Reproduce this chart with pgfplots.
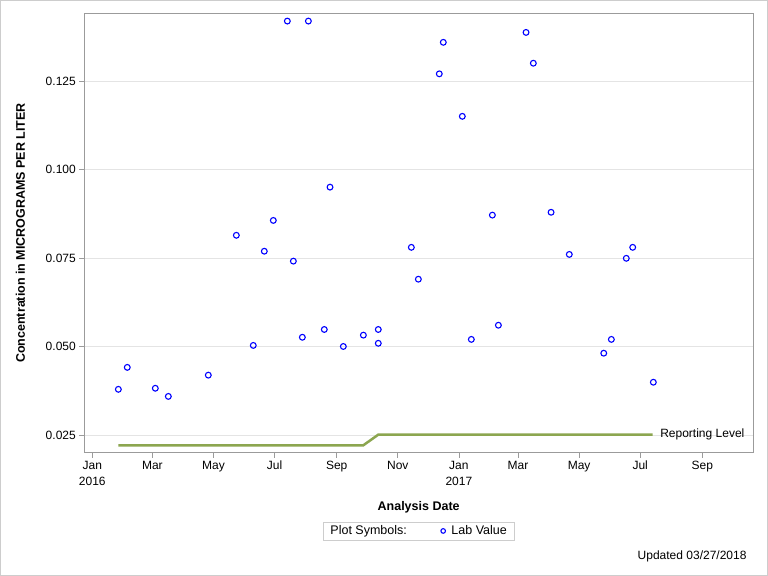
\documentclass[border=0pt]{standalone}
\usepackage{pgfplots}
\pgfplotsset{compat=1.18}
\usepackage{fontspec}
\setmainfont{Liberation Sans}

\definecolor{axisgray}{RGB}{155,155,155}
\definecolor{gridgray}{RGB}{228,228,228}
\definecolor{reflevel}{RGB}{140,166,80}
\definecolor{framegray}{RGB}{205,205,205}

% days counted from 1 Jan 2016
\pgfplotstableread{
day val
26.0 0.0380
34.9 0.0442
62.9 0.0383
75.9 0.0360
115.8 0.0420
143.8 0.0815
160.7 0.0504
171.7 0.0770
180.7 0.0857
194.7 0.1420
200.7 0.0742
209.7 0.0527
215.7 0.1420
231.6 0.0549
237.3 0.0951
250.6 0.0501
270.6 0.0533
285.5 0.0549
285.5 0.0510
318.5 0.0781
325.5 0.0691
346.4 0.1271
350.4 0.1360
369.4 0.1151
378.4 0.0521
399.4 0.0872
405.4 0.0561
433.0 0.1388
440.3 0.1301
458.0 0.0880
476.2 0.0761
510.6 0.0482
518.2 0.0521
533.1 0.0750
539.5 0.0781
560.1 0.0400
}\labdata

\begin{document}
\begin{tikzpicture}
\useasboundingbox (0,0) rectangle (768bp,576bp);
\draw[framegray, line width=1bp] (0.5bp,0.5bp) rectangle (767.5bp,575.5bp);
\begin{axis}[
  at={(84.3bp,123.3bp)}, anchor=south west,
  width=668.7bp, height=439.4bp, scale only axis,
  xmin=-8, xmax=659.6, ymin=0.0201, ymax=0.1442,
  axis line style={axisgray, line width=0.8bp},
  tick align=outside, tick pos=left, major tick length=5bp,
  tick style={axisgray, line width=0.8bp},
  ymajorgrids, grid style={gridgray, line width=0.8bp},
  xtick={0,60,121,182,244,305,366,425,486,547,609},
  xticklabels={{Jan\\2016},Mar,May,Jul,Sep,Nov,{Jan\\2017},Mar,May,Jul,Sep},
  xticklabel style={align=center, font=\fontsize{12bp}{16bp}\selectfont},
  ytick={0.025,0.05,0.075,0.1,0.125},
  scaled y ticks=false,
  yticklabel style={font=\fontsize{12bp}{14bp}\selectfont,
    /pgf/number format/fixed, /pgf/number format/fixed zerofill,
    /pgf/number format/precision=3},
  /pgf/number format/assume math mode=true,
  xlabel={\bfseries Analysis Date},
  ylabel={\bfseries Concentration in MICROGRAMS PER LITER},
  label style={font=\fontsize{12.5bp}{15bp}\selectfont},
  xlabel style={at={(axis description cs:0.5,-0.1236)}, anchor=center},
  ylabel style={at={(axis description cs:-0.0957,0.5)}, anchor=center},
  legend style={at={(0.5,-0.1577)}, anchor=north, draw=framegray,
    font=\fontsize{12.5bp}{14bp}\selectfont, inner sep=1.5bp,
    nodes={inner xsep=6bp},
    /tikz/every even column/.append style={column sep=28bp}},
  legend image post style={mark size=2.3bp},
  legend columns=2, legend cell align=left,
]
\addlegendimage{empty legend}
\addlegendentry{Plot Symbols:}

\addplot[reflevel, line width=2.5bp, forget plot] coordinates {
  (26,0.0222) (270.6,0.0222) (285.5,0.0252) (559.5,0.0252)}
  node[pos=1, anchor=west, black, xshift=3bp, font=\fontsize{12bp}{14bp}\selectfont] {Reporting Level};

\addplot[only marks, mark=o, mark size=2.9bp, mark options={blue, line width=1.1bp}]
  table[x=day, y=val] {\labdata};
\addlegendentry{Lab Value}
\end{axis}
\node[anchor=east, font=\fontsize{12bp}{14bp}\selectfont] at (750bp,19.3bp) {Updated 03/27/2018};
\end{tikzpicture}
\end{document}
